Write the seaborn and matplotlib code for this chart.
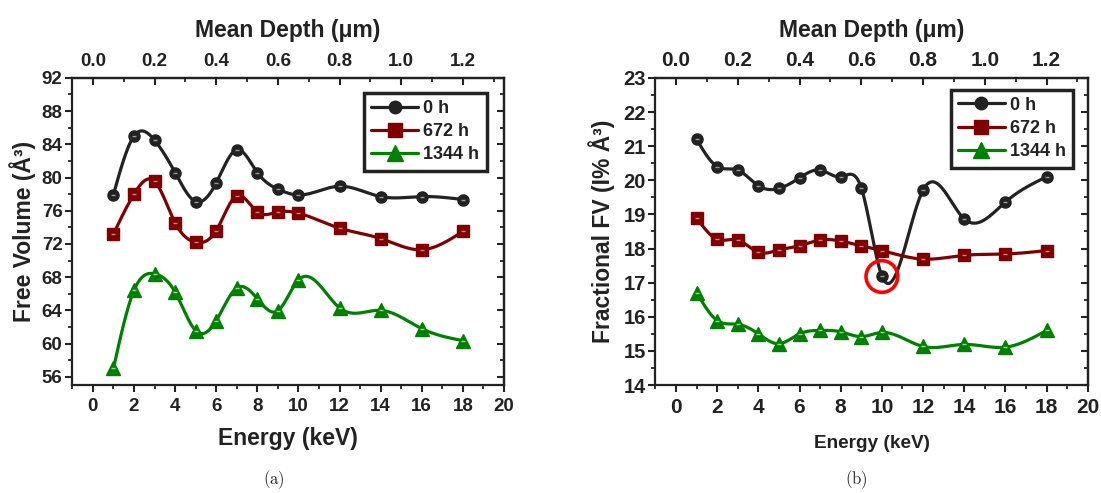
import numpy as np
import pandas as pd
import matplotlib
matplotlib.use("Agg")
import matplotlib.pyplot as plt
import seaborn as sns
from matplotlib.lines import Line2D
from matplotlib.ticker import MultipleLocator, FixedLocator

# ---------------- data ----------------
energy = [1, 2, 3, 4, 5, 6, 7, 8, 9, 10, 12, 14, 16, 18]
series = ["0 h", "672 h", "1344 h"]

fv_0h = [77.95, 85.0, 84.5, 80.6, 77.1, 79.35, 83.35, 80.6, 78.6, 77.9, 78.95, 77.7, 77.7, 77.35]
fv_672h = [73.2, 78.0, 79.55, 74.55, 72.2, 73.6, 77.8, 75.85, 75.85, 75.7, 73.9, 72.65, 71.3, 73.5]
fv_1344h = [57.0, 66.4, 68.4, 66.2, 61.55, 62.75, 66.7, 65.4, 63.95, 67.65, 64.3, 64.0, 61.8, 60.35]

ffv_0h = [21.2, 20.4, 20.3, 19.84, 19.76, 20.07, 20.3, 20.1, 19.78, 17.2, 19.71, 18.87, 19.36, 20.1]
ffv_672h = [18.9, 18.27, 18.25, 17.89, 17.96, 18.08, 18.25, 18.22, 18.08, 17.94, 17.69, 17.80, 17.84, 17.94]
ffv_1344h = [16.71, 15.89, 15.78, 15.5, 15.21, 15.5, 15.6, 15.56, 15.42, 15.54, 15.13, 15.19, 15.11, 15.6]

depth_ticks = [0.0, 0.2, 0.4, 0.6, 0.8, 1.0, 1.2]
energy_ticks = [0, 2, 4, 6, 8, 10, 12, 14, 16, 18, 20]
fv_ticks = [56, 60, 64, 68, 72, 76, 80, 84, 88, 92]
ffv_ticks = [14, 15, 16, 17, 18, 19, 20, 21, 22, 23]
highlight_energy = [10]
highlight_value = [17.18]

# ---------------- style ----------------
sns.set_style("ticks")
plt.rcParams["font.family"] = ["Liberation Sans", "DejaVu Sans"]
plt.rcParams["font.weight"] = "bold"
plt.rcParams["axes.labelweight"] = "bold"
plt.rcParams["mathtext.fontset"] = "cm"

colors = {"0 h": "#222222", "672 h": "#7f0000", "1344 h": "#008000"}
bar_colors = {"0 h": "#9a9a9a", "672 h": "#e07a7a", "1344 h": "#8fe08f"}
markers = {"0 h": "o", "672 h": "s", "1344 h": "^"}
msize = {"0 h": 8, "672 h": 8.5, "1344 h": 10.5}
SP = "#222222"


def natural_spline(x, y, n=600):
    x = np.asarray(x, float)
    y = np.asarray(y, float)
    m = len(x)
    h = np.diff(x)
    A = np.zeros((m, m))
    r = np.zeros(m)
    A[0, 0] = 1
    A[-1, -1] = 1
    for i in range(1, m - 1):
        A[i, i - 1] = h[i - 1]
        A[i, i] = 2 * (h[i - 1] + h[i])
        A[i, i + 1] = h[i]
        r[i] = 6 * ((y[i + 1] - y[i]) / h[i] - (y[i] - y[i - 1]) / h[i - 1])
    M = np.linalg.solve(A, r)
    xs = np.linspace(x[0], x[-1], n)
    idx = np.clip(np.searchsorted(x, xs) - 1, 0, m - 2)
    x0, x1 = x[idx], x[idx + 1]
    hh = x1 - x0
    a = (x1 - xs) / hh
    b = (xs - x0) / hh
    ys = (a * y[idx] + b * y[idx + 1]
          + ((a ** 3 - a) * M[idx] + (b ** 3 - b) * M[idx + 1]) * hh ** 2 / 6)
    return xs, ys


fig = plt.figure(figsize=(11.01, 4.93), dpi=100)
axL = fig.add_axes([0.0657, 0.219, 0.392, 0.623])
axR = fig.add_axes([0.5953, 0.219, 0.3926, 0.623])


def draw_panel(ax, vals, yticks, ylim, ylabel, fs):
    frames = []
    curves = []
    for s, v in zip(series, vals):
        frames.append(pd.DataFrame({"Energy": energy, "Value": v, "Aging": s}))
        xs, ys = natural_spline(energy, v)
        curves.append(pd.DataFrame({"Energy": xs, "Value": ys, "Aging": s}))
    df = pd.concat(frames, ignore_index=True)
    dc = pd.concat(curves, ignore_index=True)
    sns.lineplot(data=dc, x="Energy", y="Value", hue="Aging", palette=colors,
                 linewidth=2.3, sort=False, estimator=None, legend=False, ax=ax, zorder=2)
    for s in series:
        sub = df[df["Aging"] == s]
        ax.plot(sub["Energy"], sub["Value"], linestyle="none", marker=markers[s],
                markersize=msize[s], color=colors[s], markeredgecolor=colors[s], zorder=3)
        ax.plot(sub["Energy"], sub["Value"], linestyle="none", marker="_",
                markersize=3, markeredgewidth=1.0, color=bar_colors[s], zorder=4)

    ax.set_xlim(-1, 20)
    ax.set_ylim(*ylim)
    ax.xaxis.set_major_locator(FixedLocator(energy_ticks))
    ax.xaxis.set_minor_locator(MultipleLocator(1))
    ax.yaxis.set_major_locator(FixedLocator(yticks))
    ax.yaxis.set_minor_locator(MultipleLocator((yticks[1] - yticks[0]) / 2))
    for sp in ax.spines.values():
        sp.set_visible(True)
        sp.set_linewidth(1.6)
        sp.set_color(SP)
    ax.tick_params(which="major", direction="out", length=5, width=1.5, color=SP)
    ax.tick_params(which="minor", direction="out", length=3, width=1.3, color=SP)
    ax.tick_params(axis="x", labelsize=fs["xt"], pad=4)
    ax.tick_params(axis="y", labelsize=fs["yt"], pad=2)
    for lab in ax.get_xticklabels() + ax.get_yticklabels():
        lab.set_fontweight("bold")
        lab.set_color("#222222")
    ax.set_xlabel("Energy (keV)", fontsize=fs["xl"], fontweight="bold", labelpad=fs["xpad"], color="#222222")
    ax.set_ylabel(ylabel, fontsize=fs["yl"], fontweight="bold", labelpad=fs["ypad"], color="#222222")

    top = ax.secondary_xaxis("top", functions=(lambda e: e / 15.0, lambda d: d * 15.0))
    top.xaxis.set_major_locator(FixedLocator(depth_ticks))
    top.xaxis.set_minor_locator(MultipleLocator(0.1))
    top.tick_params(which="major", direction="in", length=5, width=1.5, color=SP,
                    labelsize=fs["tt"], pad=fs["tpad"])
    top.tick_params(which="minor", direction="in", length=3, width=1.3, color=SP)
    top.spines["top"].set_linewidth(1.6)
    top.spines["top"].set_color(SP)
    for lab in top.get_xticklabels():
        lab.set_fontweight("bold")
        lab.set_color("#222222")
    top.set_xlabel("Mean Depth (\u03bcm)", fontsize=fs["tl"], fontweight="bold", labelpad=fs["tlpad"], color="#222222")

    right = ax.secondary_yaxis("right")
    right.yaxis.set_major_locator(FixedLocator(yticks))
    right.yaxis.set_minor_locator(MultipleLocator((yticks[1] - yticks[0]) / 2))
    right.tick_params(which="major", direction="in", length=5, width=1.5, color=SP, labelright=False)
    right.tick_params(which="minor", direction="in", length=3, width=1.3, color=SP, labelright=False)
    right.spines["right"].set_linewidth(1.6)
    right.spines["right"].set_color(SP)

    handles = [Line2D([0], [0], color=colors[s], marker=markers[s], markersize=msize[s] + 1,
                      linewidth=2.3, markeredgecolor=colors[s]) for s in series]
    leg = ax.legend(handles, series, loc="upper right", bbox_to_anchor=fs["leg"],
                    borderaxespad=0, frameon=True, fancybox=False,
                    handlelength=2.6, handletextpad=0.3, labelspacing=0.35,
                    borderpad=0.4, prop={"weight": "bold", "size": 13})
    leg.get_frame().set_edgecolor(SP)
    leg.get_frame().set_linewidth(2.5)
    leg.get_frame().set_alpha(1)
    for t in leg.get_texts():
        t.set_color("#222222")
    return ax


draw_panel(axL, [fv_0h, fv_672h, fv_1344h], fv_ticks, (55, 92), "Free Volume (\u00c5\u00b3)",
           {"xt": 13.5, "yt": 13.5, "xl": 16.5, "yl": 16.5, "tt": 13.5, "tl": 16.5,
            "xpad": 9, "ypad": 4, "tpad": 6, "tlpad": 11, "leg": (0.96, 0.952)})
draw_panel(axR, [ffv_0h, ffv_672h, ffv_1344h], ffv_ticks, (14, 23), "Fractional FV (I% \u00c5\u00b3)",
           {"xt": 15, "yt": 14.5, "xl": 13.7, "yl": 16.5, "tt": 15, "tl": 16.5,
            "xpad": 13, "ypad": 6, "tpad": 6, "tlpad": 10, "leg": (0.967, 0.962)})

# highlighted point
axR.scatter(highlight_energy, highlight_value, s=520, facecolors="none",
            edgecolors="#ff0000", linewidths=2.6, zorder=5)

fig.text(0.249, 0.028, r"$\mathrm{(a)}$", fontsize=12, ha="center", va="center")
fig.text(0.778, 0.028, r"$\mathrm{(b)}$", fontsize=12, ha="center", va="center")

fig.savefig("out.png", dpi=100, facecolor="white")
